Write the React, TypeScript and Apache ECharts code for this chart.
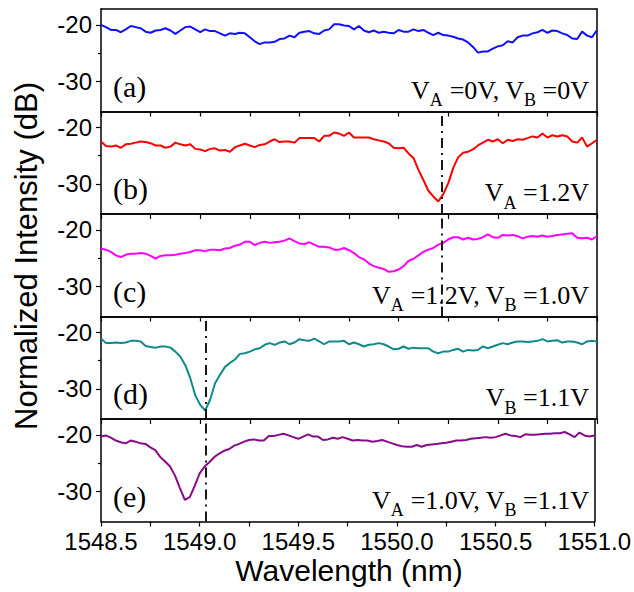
import { useEffect, useRef } from "react";
import * as echarts from "echarts";

// sampling grid of the spectra (nm)
const wavelengths: number[] = Array.from({ length: 101 }, (_, i) => +(1548.5 + i * 0.025).toFixed(3));

const panelA = [
  -20.0, -20.4, -20.9, -20.9, -21.3, -20.8, -20.2, -20.4, -20.6, -21.2,
  -21.4, -21.0, -20.9, -20.6, -21.0, -21.6, -21.0, -20.4, -20.3, -20.8,
  -21.3, -20.8, -21.1, -21.1, -21.5, -21.9, -21.5, -21.6, -21.4, -21.5,
  -22.2, -22.9, -23.4, -23.1, -23.1, -23.0, -22.5, -22.4, -21.9, -22.2,
  -21.4, -21.2, -21.1, -21.5, -21.6, -21.0, -20.8, -19.9, -19.9, -20.1,
  -20.2, -20.8, -20.2, -21.0, -21.3, -21.0, -21.4, -21.2, -21.4, -21.5,
  -20.9, -21.2, -21.2, -20.8, -21.1, -20.9, -21.4, -21.8, -21.4, -21.8,
  -21.9, -22.1, -22.4, -22.6, -23.1, -23.9, -24.9, -24.7, -24.7, -24.2,
  -23.8, -23.6, -22.9, -23.1, -22.2, -21.9, -21.9, -21.5, -21.3, -20.9,
  -21.4, -21.0, -21.1, -21.5, -21.8, -22.4, -22.5, -21.2, -21.9, -22.2,
  -20.9,
];
const panelB = [
  -22.5, -23.3, -23.4, -23.2, -23.6, -23.0, -22.9, -22.7, -22.5, -22.6,
  -22.8, -23.2, -23.2, -23.6, -23.4, -22.7, -23.0, -23.2, -23.0, -23.8,
  -23.9, -24.2, -23.8, -23.7, -24.1, -24.0, -24.3, -23.5, -23.2, -22.9,
  -23.2, -23.5, -23.1, -23.0, -22.5, -22.1, -22.6, -22.5, -22.5, -22.7,
  -21.9, -21.9, -21.9, -21.9, -22.5, -21.5, -21.5, -20.9, -21.1, -21.5,
  -20.9, -21.8, -21.8, -21.8, -21.8, -22.1, -22.3, -22.5, -22.8, -23.6,
  -23.7, -23.6, -24.6, -25.4, -27.5, -29.3, -31.2, -32.2, -33.1, -31.8,
  -29.9, -27.2, -25.3, -24.5, -24.3, -23.9, -23.2, -22.7, -22.2, -22.5,
  -22.1, -22.8, -22.2, -22.4, -22.1, -22.2, -21.9, -21.6, -21.8, -21.1,
  -21.8, -21.4, -21.6, -21.4, -21.6, -22.5, -22.7, -21.8, -23.4, -22.8,
  -22.2,
];
const panelC = [
  -23.3, -23.5, -23.9, -24.5, -24.8, -24.4, -24.2, -24.2, -24.1, -24.2,
  -24.6, -25.1, -24.6, -24.5, -24.5, -24.4, -24.2, -24.1, -23.9, -23.6,
  -23.6, -23.8, -23.5, -23.5, -23.6, -23.3, -23.2, -22.8, -22.6, -22.1,
  -22.1, -22.7, -22.3, -22.1, -22.3, -22.2, -22.1, -21.9, -21.5, -22.0,
  -22.4, -22.5, -22.2, -22.6, -23.0, -23.0, -23.1, -23.5, -23.5, -23.2,
  -23.6, -24.1, -24.8, -25.2, -25.9, -26.4, -26.7, -26.9, -27.4, -27.3,
  -27.0, -26.4, -25.5, -25.1, -24.5, -23.9, -23.5, -23.2, -22.6, -22.3,
  -21.7, -21.3, -21.3, -21.7, -21.4, -21.7, -21.6, -21.3, -20.8, -21.3,
  -21.4, -20.9, -21.0, -20.9, -21.1, -21.5, -21.2, -21.1, -21.2, -21.0,
  -21.2, -21.1, -20.9, -20.8, -20.7, -20.6, -21.4, -21.5, -21.4, -21.7,
  -21.1,
];
const panelD = [
  -21.1, -21.9, -21.9, -21.8, -21.9, -21.8, -21.5, -21.5, -21.6, -22.4,
  -22.6, -22.7, -22.5, -22.5, -22.7, -23.4, -24.3, -25.8, -28.1, -31.1,
  -32.8, -33.8, -31.9, -29.0, -27.5, -26.1, -25.4, -24.8, -23.8, -23.7,
  -23.4, -23.0, -22.8, -22.2, -21.9, -22.2, -21.8, -21.6, -22.1, -21.8,
  -21.2, -21.4, -21.5, -21.1, -21.6, -22.1, -21.6, -21.6, -21.6, -21.5,
  -22.1, -21.8, -22.1, -22.5, -22.2, -22.1, -21.9, -22.1, -22.5, -23.0,
  -22.9, -22.5, -22.9, -22.7, -22.8, -22.8, -22.8, -23.4, -23.7, -23.4,
  -23.4, -23.1, -22.9, -23.4, -23.1, -23.2, -23.1, -22.5, -22.8, -22.5,
  -22.2, -21.9, -22.1, -21.8, -21.6, -21.6, -21.7, -21.6, -21.5, -21.2,
  -21.6, -21.5, -21.4, -21.8, -21.6, -21.6, -21.8, -22.1, -21.6, -21.5,
  -21.6,
];
const panelE = [
  -20.3, -20.1, -20.5, -21.0, -21.3, -21.5, -21.0, -21.2, -21.5, -21.6,
  -22.2, -22.7, -23.9, -24.7, -25.6, -27.2, -29.4, -31.5, -31.0, -29.0,
  -26.8, -25.6, -24.8, -23.9, -23.3, -22.8, -22.5, -21.9, -21.6, -21.2,
  -20.9, -20.8, -21.0, -21.0, -20.2, -20.2, -20.0, -19.8, -20.1, -20.4,
  -20.7, -20.3, -19.9, -20.3, -20.3, -20.9, -20.8, -20.5, -20.7, -20.4,
  -20.7, -21.0, -20.9, -21.0, -21.0, -21.2, -21.1, -20.9, -21.2, -21.5,
  -21.8, -22.0, -22.1, -22.1, -21.8, -22.1, -21.8, -21.7, -21.6, -21.5,
  -21.4, -21.2, -21.0, -21.0, -20.9, -20.7, -20.6, -20.5, -20.4, -20.5,
  -20.4, -20.1, -19.8, -20.1, -20.2, -20.4, -19.9, -20.0, -20.0, -19.9,
  -19.8, -19.8, -19.7, -19.7, -19.5, -19.9, -20.4, -19.6, -20.1, -20.3,
  -20.1,
];

const panelSeries = [panelA, panelB, panelC, panelD, panelE];
const panelColors = ["#1010ff", "#ff0000", "#ff00ff", "#0e8a8a", "#8a0a8a"];
const panelLetters = ["(a)", "(b)", "(c)", "(d)", "(e)"];
const panelConditions = [
  "{v|V}{s|A}{v| =0V, V}{s|B}{v| =0V}",
  "{v|V}{s|A}{v| =1.2V}",
  "{v|V}{s|A}{v| =1.2V, V}{s|B}{v| =1.0V}",
  "{v|V}{s|B}{v| =1.1V}",
  "{v|V}{s|A}{v| =1.0V, V}{s|B}{v| =1.1V}",
];
// resonance marker wavelength per panel (null = none)
const markerWavelengths: (number | null)[] = [null, 1550.22, 1550.22, 1549.03, 1549.03];

const xMin = 1548.5;
const xMax = 1551.0;
const xInterval = 0.5;
const yMin = -35.3;
const yMax = -17.2;
const yMajorTicks = [-30, -20];
const yMinorTicks = [-25];

const xAxisTitle = "Wavelength (nm)";
const yAxisTitle = "Normalized Intensity (dB)";

export default function App() {
  const ref = useRef<HTMLDivElement>(null);

  useEffect(() => {
    document.body.style.margin = "0";
    if (!ref.current) return;
    const chart = echarts.init(ref.current, undefined, { renderer: "svg" });

    const gridLeft = 101;
    const gridWidth = 496;
    const gridTop = 9;
    const panelH = 102.5;
    const n = panelSeries.length;
    const sans = "Liberation Sans";
    const serif = "Liberation Serif";
    const frameLine = { show: true, onZero: false, lineStyle: { color: "#000", width: 1.5 } };

    const grids: any[] = [];
    const xAxes: any[] = [];
    const yAxes: any[] = [];
    const series: any[] = [];
    const graphics: any[] = [];

    for (let i = 0; i < n; i++) {
      const top = gridTop + i * panelH;
      grids.push({ left: gridLeft, width: gridWidth, top, height: panelH });
      const last = i === n - 1;
      // bottom x axis (index 2i)
      xAxes.push({
        type: "value",
        gridIndex: i,
        position: "bottom",
        min: xMin,
        max: xMax,
        interval: xInterval,
        axisLine: frameLine,
        axisTick: { show: true, inside: false, length: 5, lineStyle: { color: "#000", width: 1.2 } },
        minorTick: { show: true, splitNumber: 2, length: 5, lineStyle: { color: "#000", width: 1.2 } },
        splitLine: { show: false },
        axisLabel: {
          show: last,
          fontFamily: sans,
          fontSize: 24,
          color: "#000",
          margin: 8,
          formatter: (v: number) => v.toFixed(1),
        },
      });
      // top frame (index 2i+1)
      xAxes.push({
        type: "value",
        gridIndex: i,
        position: "top",
        min: xMin,
        max: xMax,
        axisLine: frameLine,
        axisTick: { show: false },
        axisLabel: { show: false },
        splitLine: { show: false },
      });
      // left y axis (index 3i)
      yAxes.push({
        type: "value",
        gridIndex: i,
        position: "left",
        min: yMin,
        max: yMax,
        axisLine: frameLine,
        axisTick: {
          show: true,
          inside: false,
          length: 5,
          customValues: yMajorTicks,
          lineStyle: { color: "#000", width: 1.2 },
        },
        axisLabel: {
          show: true,
          customValues: yMajorTicks,
          fontFamily: sans,
          fontSize: 24,
          color: "#000",
          margin: 9,
        },
        splitLine: { show: false },
      });
      // minor ticks (index 3i+1)
      yAxes.push({
        type: "value",
        gridIndex: i,
        position: "left",
        min: yMin,
        max: yMax,
        axisLine: { show: false },
        axisTick: {
          show: true,
          inside: false,
          length: 3,
          customValues: yMinorTicks,
          lineStyle: { color: "#000", width: 1.2 },
        },
        axisLabel: { show: false },
        splitLine: { show: false },
      });
      // right frame (index 3i+2)
      yAxes.push({
        type: "value",
        gridIndex: i,
        position: "right",
        min: yMin,
        max: yMax,
        axisLine: frameLine,
        axisTick: { show: false },
        axisLabel: { show: false },
        splitLine: { show: false },
      });

      const marker = markerWavelengths[i];
      series.push({
        type: "line",
        xAxisIndex: i * 2,
        yAxisIndex: i * 3,
        data: wavelengths.map((w, k) => [w, panelSeries[i][k]]),
        showSymbol: false,
        symbol: "none",
        lineStyle: { color: panelColors[i], width: 2 },
        itemStyle: { color: panelColors[i] },
        markLine:
          marker === null
            ? undefined
            : {
                silent: true,
                symbol: "none",
                label: { show: false },
                lineStyle: { color: "#000", width: 1.8, type: [10, 5, 2, 5] },
                data: [{ xAxis: marker }],
              },
      });

      graphics.push({
        type: "text",
        left: 113,
        top: top + 62,
        style: {
          text: panelLetters[i],
          font: `30px '${serif}'`,
          fill: "#000",
        },
      });
      graphics.push({
        type: "text",
        x: 589,
        y: top + 68,
        style: {
          text: panelConditions[i],
          align: "right",
          verticalAlign: "top",
          fill: "#000",
          rich: {
            v: { fontFamily: serif, fontSize: 26, lineHeight: 30, verticalAlign: "top", fill: "#000" },
            s: { fontFamily: serif, fontSize: 18, lineHeight: 46, verticalAlign: "middle", fill: "#000" },
          },
        },
      });
    }

    graphics.push({
      type: "text",
      x: 349,
      y: 570,
      style: {
        text: xAxisTitle,
        font: `30px '${sans}'`,
        fill: "#000",
        align: "center",
        verticalAlign: "middle",
      },
    });
    graphics.push({
      type: "text",
      x: 26,
      y: 256,
      rotation: Math.PI / 2,
      style: {
        text: yAxisTitle,
        font: `31px '${sans}'`,
        fill: "#000",
        align: "center",
        verticalAlign: "middle",
      },
    });

    chart.setOption({
      animation: false,
      backgroundColor: "#fff",
      grid: grids,
      xAxis: xAxes,
      yAxis: yAxes,
      series,
      graphic: graphics,
    });

    return () => chart.dispose();
  }, []);

  return <div ref={ref} style={{ width: 634, height: 592 }} />;
}
